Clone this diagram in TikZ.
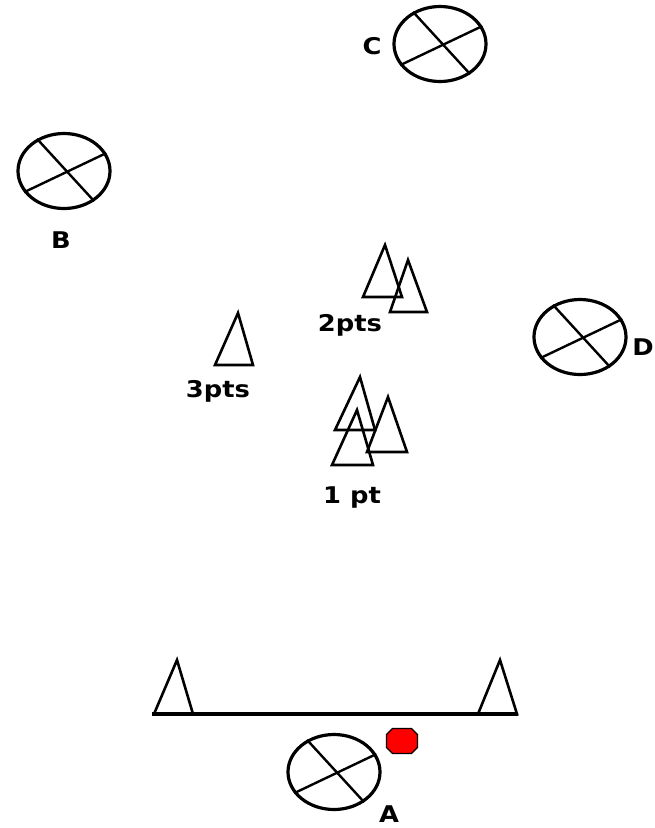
\documentclass[tikz,border=0pt]{standalone}
\usepackage{fontspec}
\newfontfamily\lblfont[FakeStretch=1.12]{DejaVu Sans Bold}
\usetikzlibrary{shapes.geometric}
\begin{document}
\begin{tikzpicture}[x=1pt,y=-1pt,
  field/.style={draw,ellipse,line width=3.2pt,minimum width=92pt,minimum height=75pt,inner sep=0pt},
  crossline/.style={line width=2.4pt},
  cone/.style={line width=2.6pt,line join=miter},
  lbl/.style={font=\lblfont\fontsize{23}{23}\selectfont,inner sep=0pt}]
\useasboundingbox (0,0) rectangle (655,828);
% player positions
\node[field] (C) at (440,44) {};
\node[field] (B) at (64,171) {};
\node[field] (D) at (580,337) {};
\node[field] (A) at (334,772) {};
\foreach \n in {A,B,C,D}{
  \draw[crossline] (\n.130) -- (\n.-45);
  \draw[crossline] (\n.23) -- (\n.208);
}
\node[lbl] (lC) at (372,46) {C};
\node[lbl] (lB) at (61,240) {B};
\node[lbl,anchor=east] (lD) at (654,347) {D};
\node[lbl] (lA) at (389,814) {A};
% cones 2pts
\draw[cone] (385,245) -- (402,297) -- (363,297) -- cycle;
\draw[cone] (408,260) -- (427,312) -- (390,312) -- cycle;
\node[lbl] (l2) at (350,325) {2pts};
% cone 3pts
\draw[cone] (238,313) -- (253,365) -- (215,365) -- cycle;
\node[lbl] (l3) at (218,391) {3pts};
% cones 1 pt
\draw[cone] (360,377) -- (375,430) -- (335,430) -- cycle;
\draw[cone] (388,397) -- (407,452) -- (367,452) -- cycle;
\draw[cone] (357,410) -- (373,465) -- (332,465) -- cycle;
\node[lbl] (l1) at (352,498) {1 pt};
% goal line with cones
\coordinate (gl) at (152,714);
\coordinate (gr) at (518,714);
\draw[line width=3.2pt] (gl) -- (gr);
\draw[cone] (177,660) -- (193,714) -- (154,714) -- cycle;
\draw[cone] (500,660) -- (517,714) -- (478,714) -- cycle;
% ball
\draw[fill=red,line width=1.2pt,shift={(402,741)}]
  (-9.5,-12.5) -- (9.5,-12.5) -- (15.5,-6.5) -- (15.5,6.5) -- (9.5,12.5)
  -- (-9.5,12.5) -- (-15.5,6.5) -- (-15.5,-6.5) -- cycle;
\end{tikzpicture}
\end{document}
